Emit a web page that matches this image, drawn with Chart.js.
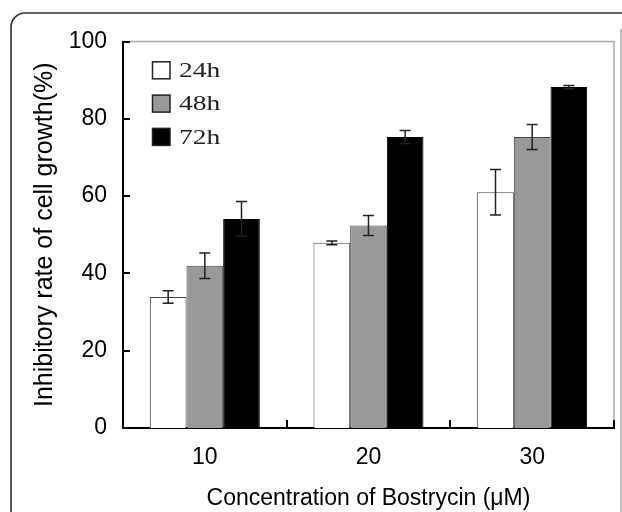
<!DOCTYPE html>
<html>
<head>
<meta charset="utf-8">
<script src="https://cdn.jsdelivr.net/npm/chart.js@4/dist/chart.umd.min.js"></script>
<style>
  html, body { margin: 0; padding: 0; background: #fff; }
  canvas { display: block; }
</style>
</head>
<body>
<canvas id="chart" width="622" height="512"></canvas>
<script>
// concentrations (μM)
const categories = ['10', '20', '30'];

// inhibitory rate (%) per incubation time
const h24 = [33.9, 47.9, 61.0];
const h48 = [42.0, 52.4, 75.3];
const h72 = [54.1, 75.3, 88.2];

// error bars (+/-)
const err24 = [1.6, 0.5, 5.9];
const err48 = [3.3, 2.6, 3.25];
const err72 = [4.5, 1.7, 0.4];

const yTicks = [0, 20, 40, 60, 80, 100];

const sansFont = "'Liberation Sans', Arial, sans-serif";

// frame, plot box, inward ticks, error bars and legend
const decorations = {
  id: 'decorations',
  beforeDatasetsDraw(chart) {
    const { ctx, chartArea } = chart;
    ctx.save();
    ctx.strokeStyle = '#aaa';
    ctx.lineWidth = 1.5;
    ctx.beginPath();
    ctx.moveTo(chartArea.left, chartArea.top);
    ctx.lineTo(chartArea.right, chartArea.top);
    ctx.lineTo(chartArea.right, chartArea.bottom);
    ctx.stroke();
    ctx.restore();
  },
  afterDatasetsDraw(chart) {
    const { ctx } = chart;
    const y = chart.scales.y;
    ctx.save();
    ctx.strokeStyle = '#222';
    ctx.lineWidth = 1.5;
    chart.data.datasets.forEach((ds, i) => {
      const meta = chart.getDatasetMeta(i);
      meta.data.forEach((bar, j) => {
        const v = ds.data[j];
        const e = ds.errors[j];
        const top = y.getPixelForValue(v + e);
        const bot = y.getPixelForValue(v - e);
        ctx.beginPath();
        ctx.moveTo(bar.x, top);
        ctx.lineTo(bar.x, bot);
        ctx.moveTo(bar.x - 5.5, top);
        ctx.lineTo(bar.x + 5.5, top);
        ctx.moveTo(bar.x - 5.5, bot);
        ctx.lineTo(bar.x + 5.5, bot);
        ctx.stroke();
      });
    });
    ctx.restore();
  },
  afterDraw(chart) {
    const { ctx, chartArea } = chart;
    const x = chart.scales.x;
    const y = chart.scales.y;
    ctx.save();

    // inward tick marks
    ctx.strokeStyle = '#000';
    ctx.lineWidth = 2;
    ctx.beginPath();
    yTicks.forEach(v => {
      if (v === 0) return;
      const py = Math.round(y.getPixelForValue(v));
      ctx.moveTo(chartArea.left, py);
      ctx.lineTo(chartArea.left + 7, py);
    });
    for (let i = 0; i < categories.length; i++) {
      const px = i < categories.length - 1
        ? (x.getPixelForValue(i) + x.getPixelForValue(i + 1)) / 2
        : chartArea.right;
      ctx.moveTo(Math.round(px), chartArea.bottom);
      ctx.lineTo(Math.round(px), chartArea.bottom - 8);
    }
    ctx.stroke();

    // legend
    chart.data.datasets.forEach((ds, i) => {
      const cy = 70.3 + i * 33.3;
      ctx.fillStyle = ds.backgroundColor;
      ctx.fillRect(152.5, cy - 8.5, 17.5, 17);
      ctx.strokeStyle = '#222';
      ctx.lineWidth = 1.5;
      ctx.strokeRect(152.5, cy - 8.5, 17.5, 17);
      ctx.save();
      ctx.translate(179, cy + 1);
      ctx.scale(1.25, 1);
      ctx.fillStyle = '#222';
      ctx.font = "22px 'Liberation Serif', serif";
      ctx.textBaseline = 'middle';
      ctx.textAlign = 'left';
      ctx.fillText(ds.label, 0, 0);
      ctx.restore();
    });

    // figure frame
    ctx.strokeStyle = '#333';
    ctx.lineWidth = 1.6;
    ctx.beginPath();
    ctx.moveTo(11, 540);
    ctx.lineTo(11, 27);
    ctx.arcTo(11, 13, 25, 13, 14);
    ctx.lineTo(650, 13);
    ctx.stroke();
    ctx.strokeStyle = '#bbb';
    ctx.lineWidth = 2;
    ctx.beginPath();
    ctx.moveTo(621, 29);
    ctx.lineTo(621, 512);
    ctx.stroke();

    ctx.restore();
  }
};

new Chart(document.getElementById('chart'), {
  type: 'bar',
  data: {
    labels: categories,
    datasets: [
      { label: '24h', data: h24, errors: err24, backgroundColor: '#ffffff', borderColor: '#444', borderWidth: 1 },
      { label: '48h', data: h48, errors: err48, backgroundColor: '#999999', borderColor: '#444', borderWidth: 1 },
      { label: '72h', data: h72, errors: err72, backgroundColor: '#000000', borderColor: '#000', borderWidth: 1 }
    ]
  },
  options: {
    responsive: false,
    animation: false,
    layout: { padding: { top: 41.5, right: 8, left: 0, bottom: 0 } },
    datasets: {
      bar: { categoryPercentage: 0.672, barPercentage: 1.0 }
    },
    plugins: {
      legend: { display: false },
      tooltip: { enabled: false }
    },
    scales: {
      x: {
        grid: { display: false, drawTicks: false },
        border: { color: '#000', width: 2 },
        ticks: { color: '#000', padding: 16, font: { family: sansFont, size: 23 } },
        title: {
          display: true,
          text: 'Concentration of Bostrycin (μM)',
          color: '#000',
          font: { family: sansFont, size: 23 },
          padding: { top: 0, bottom: 0 }
        },
        afterFit(scale) { scale.height = 84; }
      },
      y: {
        min: 0,
        max: 100,
        grid: { display: false, drawTicks: false },
        border: { color: '#000', width: 2 },
        afterBuildTicks(scale) { scale.ticks = yTicks.map(v => ({ value: v })); },
        ticks: { color: '#000', padding: 16, font: { family: sansFont, size: 23 } },
        title: {
          display: true,
          text: 'Inhibitory rate of cell growth(%)',
          color: '#000',
          font: { family: sansFont, size: 25 },
          padding: { top: 30, bottom: 0 }
        },
        afterFit(scale) { scale.width = 123; }
      }
    }
  },
  plugins: [decorations]
});
</script>
</body>
</html>
